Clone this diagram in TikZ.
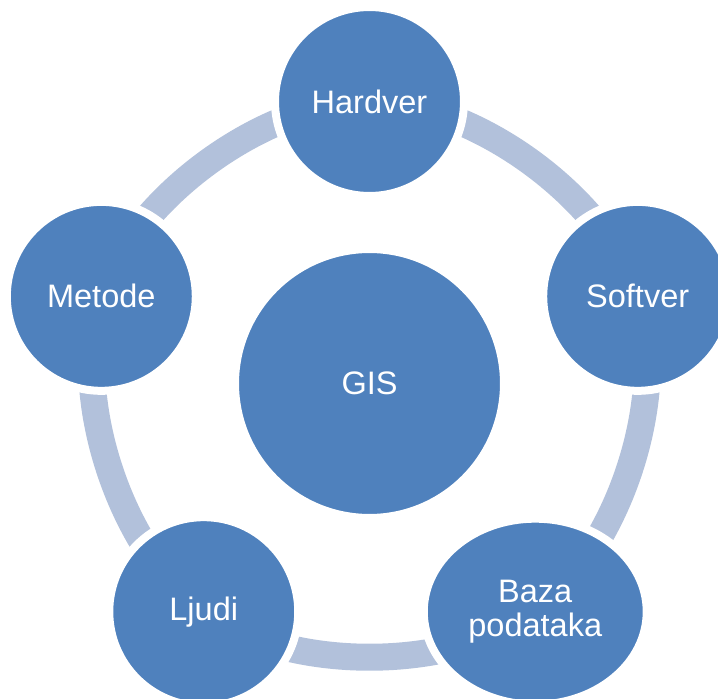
\documentclass[tikz,border=0pt]{standalone}
\usepackage{fontspec}
\setmainfont{Liberation Sans}
\usetikzlibrary{shapes.geometric,backgrounds}
\definecolor{gisblue}{RGB}{79,129,189}
\definecolor{ringblue}{RGB}{178,193,219}
\tikzset{
  part/.style={circle, fill=gisblue, draw=white, line width=0.16cm, minimum size=3.78cm,
    inner sep=0pt, text=white, align=center, font=\fontsize{18.5}{19}\selectfont},
  ring/.style={draw=ringblue, line width=0.54cm},
}

\begin{document}
\begin{tikzpicture}[x=0.02cm, y=0.02cm]
\useasboundingbox (-369.5,-314.5) rectangle (348.5,383.5);
\node[part, minimum size=5.38cm] (gis) at (0,0) {GIS};
\foreach \ang/\name/\txt in {90/hard/Hardver, 18/soft/Softver, 162/met/Metode, -126/ljudi/Ljudi}
  \node[part] (\name) at (\ang:282) {\txt};
\node[part, ellipse, minimum width=4.46cm, minimum height=3.72cm] (baza) at (-54:282) {Baza\\podataka};
% the cycle between the parts
\begin{scope}[on background layer]
\foreach \a/\b in {hard/soft, soft/baza, baza/ljudi, ljudi/met, met/hard}
  \draw[ring] (\a.center) to[bend left=36, looseness=0.8] (\b.center);
\end{scope}
\end{tikzpicture}
\end{document}
